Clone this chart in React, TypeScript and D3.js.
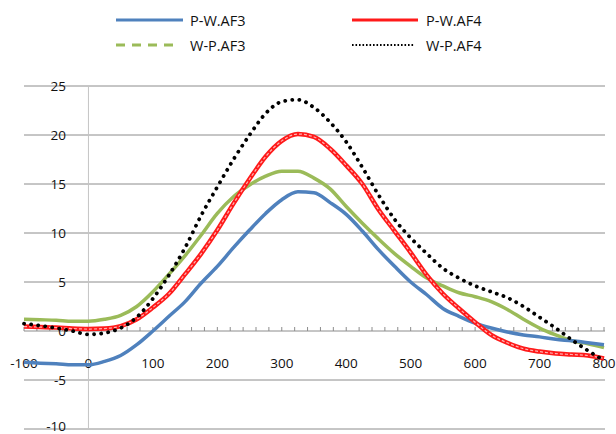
import React from "react";
import * as d3 from "d3";

// x positions shared by every series
const xValues = [
  -100, -75, -50, -25, 0, 25, 50, 75, 100, 125, 150, 175, 200, 225, 250, 275, 300, 325, 350,
  375, 400, 425, 450, 475, 500, 525, 550, 575, 600, 625, 650, 675, 700, 725, 750, 775, 800,
];

const pwAF3 = [
  -3.2, -3.3, -3.35, -3.45, -3.45, -3.1, -2.5, -1.4, 0.0, 1.5, 3.0, 4.9, 6.6, 8.5, 10.3, 12.0,
  13.4, 14.2, 14.1, 13.1, 11.9, 10.2, 8.3, 6.6, 5.0, 3.7, 2.3, 1.5, 0.8, 0.3, -0.1, -0.4, -0.6,
  -0.85, -1.0, -1.2, -1.4,
];
const pwAF4 = [
  0.45, 0.4, 0.35, 0.25, 0.2, 0.25, 0.5, 1.2, 2.4, 3.8, 5.8, 7.9, 10.3, 13.0, 15.5, 17.8, 19.4,
  20.1, 19.8, 18.6, 16.9, 15.0, 12.4, 10.2, 8.0, 5.7, 3.8, 2.3, 0.9, -0.4, -1.2, -1.8, -2.1,
  -2.3, -2.4, -2.5, -2.8,
];
const wpAF3 = [
  1.2, 1.15, 1.1, 1.0, 1.0, 1.2, 1.6, 2.5, 4.0, 5.8, 7.7, 9.8, 12.0, 13.7, 14.9, 15.8, 16.3,
  16.3, 15.6, 14.5, 12.7, 11.0, 9.4, 7.9, 6.6, 5.4, 4.6, 3.9, 3.5, 3.0, 2.2, 1.2, 0.3, -0.4,
  -1.0, -1.3, -1.7,
];
const wpAF4 = [
  0.75, 0.55, 0.3, 0.0, -0.35, -0.2, 0.3, 1.4, 3.3, 5.7, 8.5, 11.8, 14.7, 17.5, 20.0, 22.2,
  23.4, 23.6, 22.8, 21.3, 19.3, 16.7, 13.9, 11.4, 9.5, 7.9, 6.4, 5.4, 4.6, 4.0, 3.4, 2.5, 1.4,
  0.3, -0.9, -2.0, -3.0,
];

const xTicks = [-100, 0, 100, 200, 300, 400, 500, 600, 700, 800];
const yTicks = [-10, -5, 0, 5, 10, 15, 20, 25];
const seriesNames = ["P-W.AF3", "P-W.AF4", "W-P.AF3", "W-P.AF4"];

const W = 616;
const H = 434;
const font = "'Open Sans', sans-serif";

export default function App() {
  const x = d3.scaleLinear().domain([-100, 800]).range([24, 604]);
  const y = d3.scaleLinear().domain([-10, 25]).range([429, 86]);
  const minor = d3.range(-100, 801, 20);

  const line = (vals: number[]) =>
    d3
      .line<number>()
      .x((_, i) => x(xValues[i]))
      .y((v) => y(v))
      .curve(d3.curveMonotoneX)(vals) || "";

  return (
    <svg
      width={W}
      height={H}
      style={{ position: "absolute", left: 0, top: 0, background: "#fff" }}
    >
      {/* horizontal gridlines */}
      {yTicks
        .filter((t) => t !== 0)
        .map((t) => (
          <line key={t} x1={24} x2={605} y1={y(t)} y2={y(t)} stroke="#8c8c8c" strokeWidth={1} />
        ))}
      {/* vertical axis at x = 0 */}
      <line x1={x(0)} x2={x(0)} y1={86} y2={429} stroke="#c4c4c4" strokeWidth={1} />
      {/* horizontal axis at y = 0 */}
      <line x1={24} x2={605} y1={y(0)} y2={y(0)} stroke="#8c8c8c" strokeWidth={1} />
      {minor.map((t) => (
        <line key={t} x1={x(t)} x2={x(t)} y1={y(0) - 4} y2={y(0)} stroke="#8c8c8c" />
      ))}

      {/* y labels */}
      {yTicks.map((t) => (
        <text
          key={t}
          x={66}
          y={t === -10 ? 426 : y(t)}
          textAnchor="end"
          dominantBaseline="central"
          fontFamily={font}
          fontSize={13.5}
          fill="#111"
        >
          {t}
        </text>
      ))}
      {/* x labels */}
      {xTicks.map((t) => (
        <text
          key={t}
          x={x(t)}
          y={363}
          textAnchor="middle"
          dominantBaseline="central"
          fontFamily={font}
          fontSize={13.5}
          fill="#111"
        >
          {t}
        </text>
      ))}

      {/* series */}
      <path d={line(wpAF3)} fill="none" stroke="#9bbb59" strokeWidth={3.5} />
      <path d={line(pwAF3)} fill="none" stroke="#4f81bd" strokeWidth={3.5} />
      <path d={line(pwAF4)} fill="none" stroke="#ff1a1a" strokeWidth={4.5} />
      <path
        d={line(pwAF4)}
        fill="none"
        stroke="#ffb3b3"
        strokeWidth={1.2}
        strokeDasharray="3 2"
      />
      <path
        d={line(wpAF4)}
        fill="none"
        stroke="#000"
        strokeWidth={3.8}
        strokeDasharray="0.1 7"
        strokeLinecap="round"
      />

      {/* legend */}
      <g fontFamily={font} fontSize={14.5} fill="#111">
        <line x1={116} x2={183} y1={20} y2={20} stroke="#4f81bd" strokeWidth={3} />
        <text x={190} y={20} dominantBaseline="central">{seriesNames[0]}</text>
        <line x1={352} x2={418} y1={20} y2={20} stroke="#ff1a1a" strokeWidth={3} />
        <text x={426} y={20} dominantBaseline="central">{seriesNames[1]}</text>
        <line
          x1={116}
          x2={180}
          y1={45}
          y2={45}
          stroke="#9bbb59"
          strokeWidth={3}
          strokeDasharray="9 7"
        />
        <text x={190} y={45} dominantBaseline="central">{seriesNames[2]}</text>
        <line
          x1={352}
          x2={414}
          y1={45}
          y2={45}
          stroke="#000"
          strokeWidth={1.8}
          strokeDasharray="1.6 1.9"
        />
        <text x={426} y={45} dominantBaseline="central">{seriesNames[3]}</text>
      </g>
    </svg>
  );
}
